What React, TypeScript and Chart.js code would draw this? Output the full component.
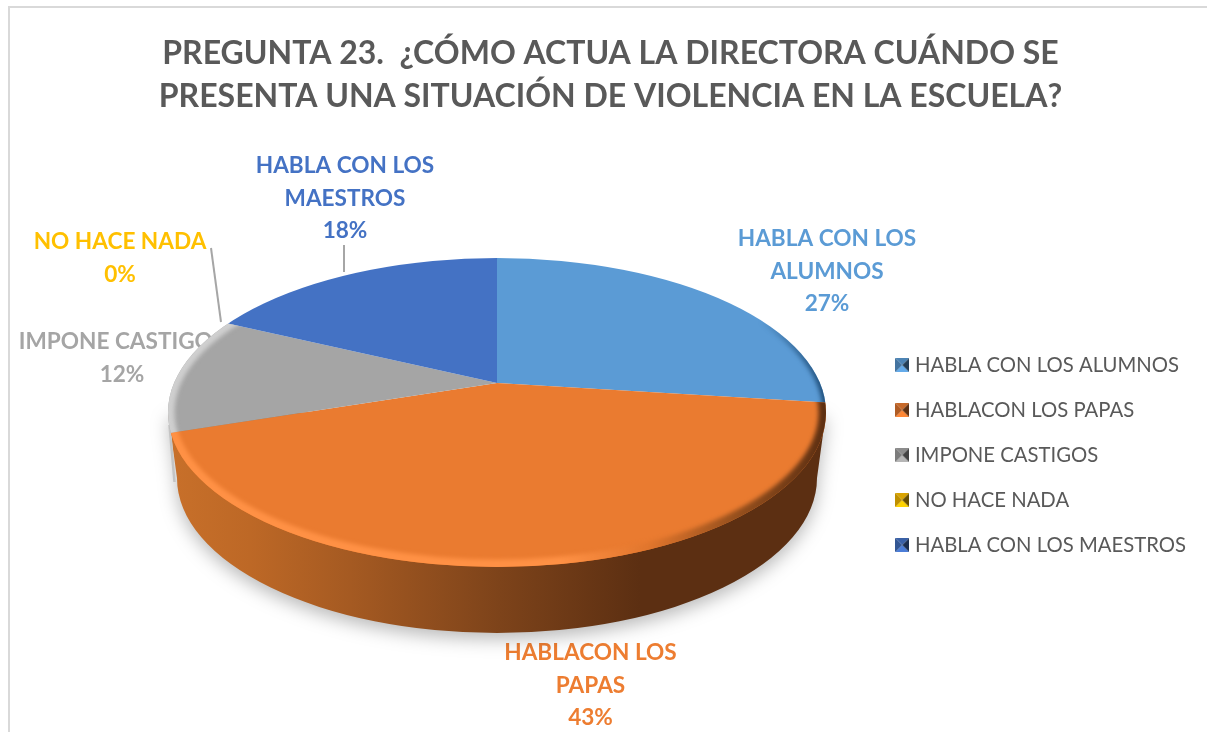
import React, { useEffect, useRef } from "react";
import { Chart, registerables } from "chart.js";

Chart.register(...registerables);

const categories = ["HABLA CON LOS ALUMNOS", "HABLACON LOS PAPAS", "IMPONE CASTIGOS", "NO HACE NADA", "HABLA CON LOS MAESTROS"];
const values = [27, 43, 12, 0, 18];
const titleLines = ["PREGUNTA 23.  ¿CÓMO ACTUA LA DIRECTORA CUÁNDO SE", "PRESENTA UNA SITUACIÓN DE VIOLENCIA EN LA ESCUELA?"];
const labelLines = [["HABLA CON LOS", "ALUMNOS"], ["HABLACON LOS", "PAPAS"], ["IMPONE CASTIGOS"], ["NO HACE NADA"], ["HABLA CON LOS", "MAESTROS"]];
const colors = ["#5b9bd5", "#ea7b30", "#a5a5a5", "#ffc000", "#4472c4"];
const labelColors = ["#5b9bd5", "#ed7d31", "#a5a5a5", "#ffc000", "#4472c4"];

// layout of the drawing (not data)
const FONT = "Lato, Carlito, Calibri, sans-serif";
const labelAnchor = [[827, 238.5], [590.5, 652.5], [122, 342], [120, 241.5], [345, 165.5]];
const LABEL_STEP = 32.8;
const leaders = [[[211, 248], [221, 322]], [[344, 245], [344, 272]]];
const apex = { x: 497, y: 383 };
const face = { x: 497, y: 412.5, rx: 329, ry: 154.5 };
const base = { x: 497, y: 478, rx: 320, ry: 155 };
const SQUASH = 0.47;
const REACH = 480;

function shade(hex: string, f: number) {
  const n = parseInt(hex.slice(1), 16);
  const c = [(n >> 16) & 255, (n >> 8) & 255, n & 255].map((v) => Math.min(255, Math.round(v * f)));
  return `rgb(${c[0]},${c[1]},${c[2]})`;
}

function marker(color: string) {
  const s = 14;
  const cv = document.createElement("canvas");
  cv.width = s;
  cv.height = s;
  const g = cv.getContext("2d")!;
  const m = s / 2;
  const tri = (pts: number[][], fill: string) => {
    g.fillStyle = fill;
    g.beginPath();
    g.moveTo(pts[0][0], pts[0][1]);
    g.lineTo(pts[1][0], pts[1][1]);
    g.lineTo(pts[2][0], pts[2][1]);
    g.closePath();
    g.fill();
  };
  tri([[0, 0], [s, 0], [m, m]], shade(color, 0.85));
  tri([[0, s], [s, s], [m, m]], shade(color, 1.1));
  tri([[0, 0], [0, s], [m, m]], shade(color, 0.75));
  tri([[s, 0], [s, s], [m, m]], shade(color, 0.4));
  return cv;
}

function facePath(ctx: CanvasRenderingContext2D) {
  ctx.beginPath();
  ctx.ellipse(face.x, face.y, face.rx, face.ry, 0, 0, Math.PI * 2);
}

const pie3d = {
  id: "pie3d",
  beforeDraw(chart: any) {
    const { ctx, width, height } = chart;
    ctx.save();
    ctx.fillStyle = "#ffffff";
    ctx.fillRect(0, 0, width, height);
    ctx.strokeStyle = "#d9d9d9";
    ctx.lineWidth = 2;
    ctx.strokeRect(9, 7, width + 20, height + 20);
    ctx.restore();
  },
  beforeDatasetsDraw(chart: any) {
    const { ctx } = chart;
    const arc = chart.getDatasetMeta(0).data[0];
    // data labels and leader lines lie behind the pie
    ctx.save();
    ctx.textAlign = "center";
    ctx.textBaseline = "middle";
    ctx.font = `bold 22.6px ${FONT}`;
    labelLines.forEach((lines, i) => {
      const all = [...lines, `${values[i]}%`];
      ctx.fillStyle = labelColors[i];
      all.forEach((t, j) => ctx.fillText(t, labelAnchor[i][0], labelAnchor[i][1] + j * LABEL_STEP));
    });
    ctx.strokeStyle = "#a6a6a6";
    ctx.lineWidth = 2;
    leaders.forEach(([a, b]) => {
      ctx.beginPath();
      ctx.moveTo(a[0], a[1]);
      ctx.lineTo(b[0], b[1]);
      ctx.stroke();
    });
    ctx.restore();

    // side wall
    ctx.save();
    const grad = ctx.createLinearGradient(face.x - face.rx, 0, face.x + face.rx, 0);
    const stop = (x: number, c: string) => grad.addColorStop((x - 168) / 658, c);
    stop(168, "#c8702a");
    stop(250, "#bd6826");
    stop(350, "#a55a22");
    stop(500, "#7d431a");
    stop(640, "#5c2f12");
    stop(826, "#5c2f12");
    ctx.shadowColor = "rgba(0,0,0,0.28)";
    ctx.shadowBlur = 18;
    ctx.shadowOffsetY = 6;
    ctx.fillStyle = grad;
    ctx.beginPath();
    ctx.moveTo(face.x + face.rx, face.y);
    ctx.lineTo(base.x + base.rx, base.y);
    ctx.ellipse(base.x, base.y, base.rx, base.ry, 0, 0, Math.PI);
    ctx.lineTo(face.x - face.rx, face.y);
    ctx.closePath();
    ctx.fill();
    ctx.restore();
    ctx.save();
    ctx.filter = "blur(0.6px)";
    ctx.strokeStyle = "#c4c4c4";
    ctx.lineWidth = 2.5;
    ctx.beginPath();
    ctx.moveTo(169.5, 425);
    ctx.lineTo(174.5, 482);
    ctx.stroke();
    ctx.restore();

    // top face: library arcs under a squash, trimmed by the face outline
    ctx.save();
    facePath(ctx);
    ctx.clip();
    const k = REACH / arc.outerRadius;
    ctx.translate(apex.x, apex.y);
    ctx.scale(k, k * SQUASH);
    ctx.translate(-arc.x, -arc.y);
  },
  afterDatasetsDraw(chart: any) {
    const { ctx } = chart;
    ctx.restore();
    const arcs = chart.getDatasetMeta(0).data;
    const g = ctx.createLinearGradient(168, 0, 826, 0);
    const stop = (x: number, c: string) => g.addColorStop((x - 168) / 658, c);
    stop(168, "#ff9145");
    stop(560, "#ff9145");
    stop(650, "#e0752c");
    stop(730, "#9a521e");
    stop(826, "#5c2f12");
    const blue = ctx.createLinearGradient(168, 0, 826, 0);
    blue.addColorStop(0.9, "rgba(31,78,121,0)");
    blue.addColorStop(1, "rgba(31,78,121,1)");
    const rims: any[] = [{ c: blue, w: 7 }, { c: g, w: 15 }, { c: "#cfcfcf", w: 13 }, null, null];
    arcs.forEach((arc: any, i: number) => {
      const rim = rims[i];
      if (!rim) return;
      const k = REACH / arc.outerRadius;
      ctx.save();
      ctx.save();
      ctx.translate(apex.x, apex.y);
      ctx.scale(k, k * SQUASH);
      ctx.translate(-arc.x, -arc.y);
      ctx.beginPath();
      ctx.moveTo(arc.x, arc.y);
      ctx.arc(arc.x, arc.y, arc.outerRadius, arc.startAngle, arc.endAngle);
      ctx.closePath();
      ctx.restore();
      ctx.clip();
      facePath(ctx);
      ctx.clip();
      ctx.filter = "blur(2px)";
      ctx.strokeStyle = rim.c;
      ctx.lineWidth = rim.w;
      facePath(ctx);
      ctx.stroke();
      ctx.restore();
    });
  },
};

export default function App() {
  const ref = useRef<HTMLCanvasElement>(null);
  useEffect(() => {
    const chart = new Chart(ref.current!, {
      type: "pie",
      data: {
        labels: categories,
        datasets: [{ data: values, backgroundColor: colors, borderWidth: 0, clip: false } as any],
      },
      plugins: [pie3d],
      options: {
        animation: false,
        responsive: false,
        layout: { padding: { left: 25, right: 11, top: 32, bottom: 0 } },
        plugins: {
          tooltip: { enabled: false },
          title: {
            display: true,
            text: titleLines,
            color: "#595959",
            font: { family: FONT, size: 32, weight: "bold", lineHeight: 1.344 },
            padding: { top: 0, bottom: 60 },
          },
          legend: {
            position: "right",
            fullSize: false,
            labels: {
              usePointStyle: true,
              boxWidth: 5,
              boxHeight: 14,
              padding: 24.7,
              color: "#595959",
              font: { family: FONT, size: 20.3 },
              generateLabels: () =>
                categories.map((text, i) => ({
                  text,
                  index: i,
                  hidden: false,
                  lineWidth: 0,
                  fillStyle: colors[i],
                  strokeStyle: colors[i],
                  fontColor: "#595959",
                  pointStyle: marker(colors[i]),
                })),
            },
          },
        },
      },
    } as any);
    return () => chart.destroy();
  }, []);
  return (
    <div style={{ position: "fixed", left: 0, top: 0, width: 1207, height: 732, background: "#fff" }}>
      <canvas ref={ref} width={1207} height={732} style={{ display: "block" }} />
    </div>
  );
}
